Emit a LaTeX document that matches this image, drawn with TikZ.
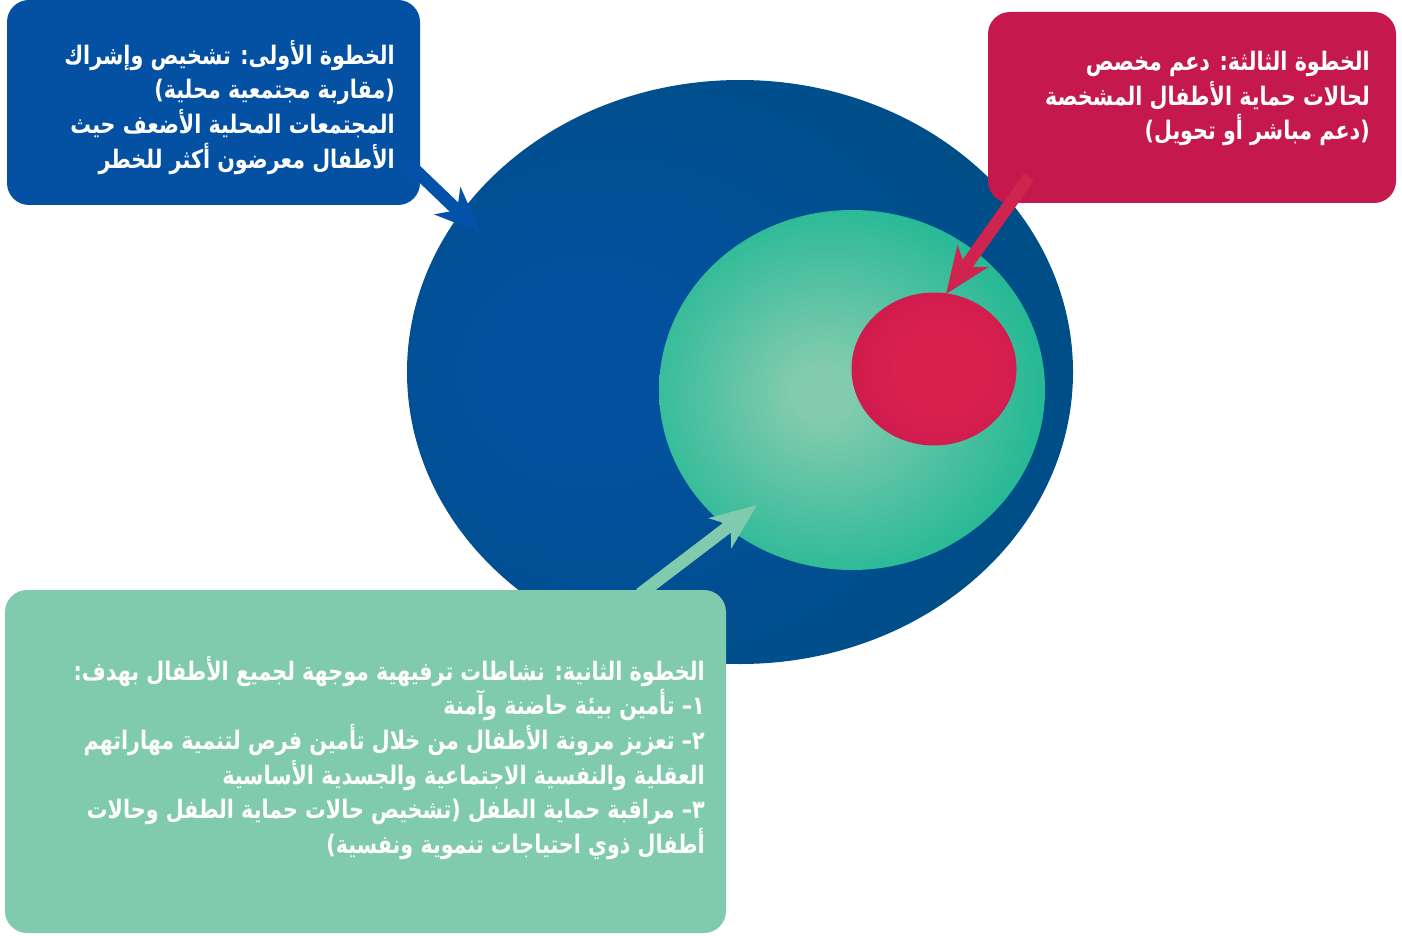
\documentclass[tikz,border=0pt]{standalone}
\usepackage{fontspec}
\usetikzlibrary{shapes.geometric,arrows.meta}
\TeXXeTstate=1
\newfontfamily\arabicfont[Script=Arabic,FakeStretch=0.81]{DejaVu Sans}
\newcommand\rtline[1]{\beginR #1\endR}

\definecolor{stepblue}{HTML}{0451A4}
\definecolor{stepred}{HTML}{C5184D}
\definecolor{stepgreen}{HTML}{80CBAE}
\definecolor{bluearrow}{HTML}{0451AA}
\definecolor{redarrow}{HTML}{CF2450}
\definecolor{outerdeep}{HTML}{004E88}
\definecolor{outerlight}{HTML}{0251A0}
\definecolor{midedge}{HTML}{22B894}
\definecolor{midcore}{HTML}{82CBAE}
\definecolor{coreedge}{HTML}{C8194C}
\definecolor{corecenter}{HTML}{D9204F}

% soft radial fills for the three nested circles
\pgfdeclareradialshading{outerglow}{\pgfpoint{-13bp}{0bp}}{color(0bp)=(outerlight); color(6bp)=(outerlight); color(30bp)=(outerdeep); color(70bp)=(outerdeep)}
\pgfdeclareradialshading{midglow}{\pgfpoint{-4bp}{-0.5bp}}{color(0bp)=(midcore); color(4bp)=(midcore); color(28bp)=(midedge); color(70bp)=(midedge)}
\pgfdeclareradialshading{coreglow}{\pgfpoint{3bp}{0bp}}{color(0bp)=(corecenter); color(14bp)=(corecenter); color(36bp)=(coreedge); color(70bp)=(coreedge)}

\tikzset{
  ring/.style={shape=ellipse, inner sep=0pt, draw=none},
  stepbox/.style={rectangle, rounded corners=22pt, inner sep=0pt, draw=none},
  steptext/.style={text=white, align=right, inner sep=0pt,
    font=\arabicfont\bfseries\fontsize{25.5}{34.6}\selectfont},
  pointer/.style={line width=12.5pt, -{Stealth[length=46pt, width=37pt, inset=13pt]}},
}

\begin{document}
\begin{tikzpicture}[x=1pt,y=-1pt]
\useasboundingbox (0,0) rectangle (1402,936);

% nested circles
\node[ring, shading=outerglow, minimum width=666pt, minimum height=584pt] (outer) at (740,372) {};
\node[ring, shading=midglow, minimum width=386pt, minimum height=360pt] (middle) at (852,390) {};
\node[ring, shading=coreglow, minimum width=165pt, minimum height=153pt] (core) at (934,369) {};

% step boxes
\node[stepbox, fill=stepblue, minimum width=413pt, minimum height=205pt] (bluebox) at (213.5,102.5) {};
\node[stepbox, fill=stepred, minimum width=408pt, minimum height=191pt] (redbox) at (1192,107.5) {};
\node[stepbox, fill=stepgreen, minimum width=721pt, minimum height=343pt] (greenbox) at (365.5,761.5) {};

% arrow end points
\coordinate (blueTail) at (408,163);
\coordinate (blueTip) at (481,233);
\coordinate (redTail) at (1029,177);
\coordinate (redTip) at (946,294);
\coordinate (greenTail) at (640,594);
\coordinate (greenTip) at (757,505);

\draw[pointer, draw=bluearrow, fill=bluearrow] (blueTail) -- (blueTip);
\draw[pointer, draw=redarrow, fill=redarrow] (redTail) -- (redTip);
\draw[pointer, draw=stepgreen, fill=stepgreen] (greenTail) -- (greenTip);

% texts
\node[steptext, anchor=north east] (bluetext) at (395,40) {%
\rtline{الخطوة الأولى: تشخيص وإشراك}\\
\rtline{(مقاربة مجتمعية محلية)}\\
\rtline{المجتمعات المحلية الأضعف حيث}\\
\rtline{الأطفال معرضون أكثر للخطر}};

\node[steptext, anchor=north east] (redtext) at (1370,51) {%
\rtline{الخطوة الثالثة: دعم مخصص}\\
\rtline{لحالات حماية الأطفال المشخصة}\\
\rtline{(دعم مباشر أو تحويل)}};

\node[steptext, anchor=north east] (greentext) at (705,656) {%
\rtline{الخطوة الثانية: نشاطات ترفيهية موجهة لجميع الأطفال بهدف:}\\
\rtline{١– تأمين بيئة حاضنة وآمنة}\\
\rtline{٢– تعزيز مرونة الأطفال من خلال تأمين فرص لتنمية مهاراتهم}\\
\rtline{العقلية والنفسية الاجتماعية والجسدية الأساسية}\\
\rtline{٣– مراقبة حماية الطفل (تشخيص حالات حماية الطفل وحالات}\\
\rtline{أطفال ذوي احتياجات تنموية ونفسية)}};
\end{tikzpicture}
\end{document}
